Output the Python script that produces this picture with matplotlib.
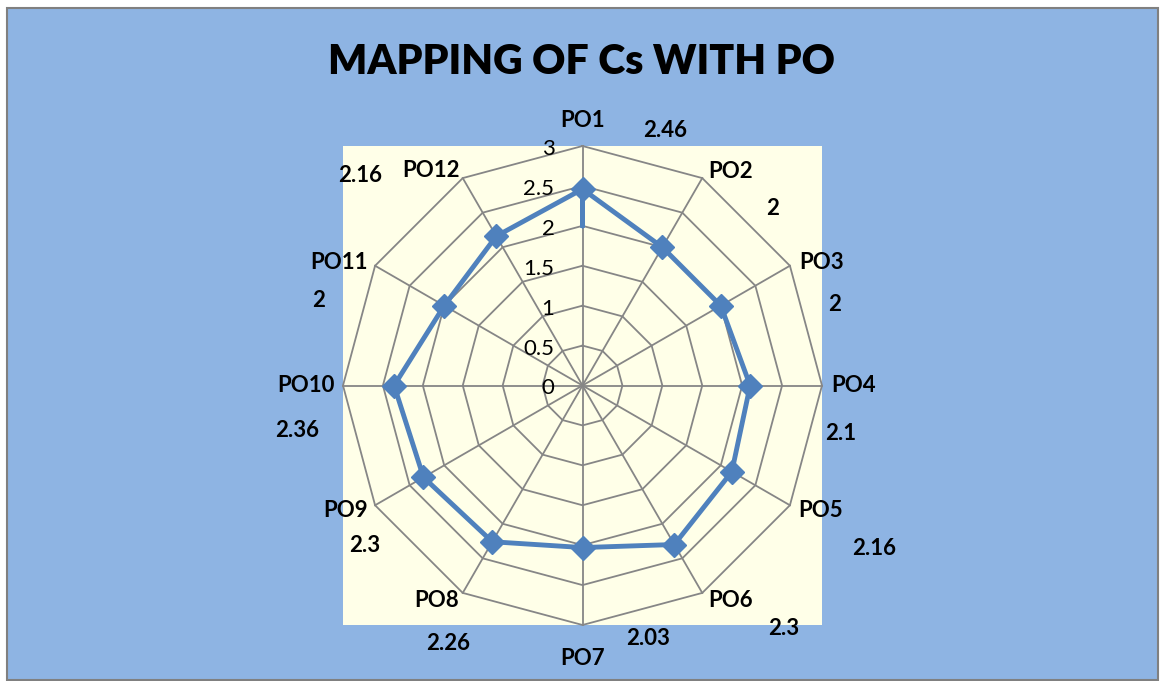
import numpy as np
import matplotlib
matplotlib.use("Agg")
import matplotlib.pyplot as plt
from matplotlib.patches import Rectangle

# data
categories = ["PO1", "PO2", "PO3", "PO4", "PO5", "PO6",
              "PO7", "PO8", "PO9", "PO10", "PO11", "PO12"]
values = [2.46, 2, 2, 2.1, 2.16, 2.3, 2.03, 2.26, 2.3, 2.36, 2, 2.16]
value_text = ["2.46", "2", "2", "2.1", "2.16", "2.3",
              "2.03", "2.26", "2.3", "2.36", "2", "2.16"]
rings = [0.5, 1, 1.5, 2, 2.5, 3]
tick_labels = ["0", "0.5", "1", "1.5", "2", "2.5", "3"]

# label layout (pixel offsets from the centre, y up)
cat_off = [(0, 265), (148, 214), (239, 123), (271, 0), (238, -125), (148, -215),
           (0, -273), (-146, -215), (-237, -125), (-277, 0), (-244, 123), (-152, 215)]
val_off = [(83, 255), (190, 177), (252, 81), (258, -48), (292, -163), (201, -243),
           (66, -253), (-134, -258), (-218, -160), (-285, -45), (-264, 85), (-222, 210)]

plt.rcParams['font.family'] = ['Lato', 'DejaVu Sans']

W, H = 1162, 681
fig = plt.figure(figsize=(W / 100, H / 100), dpi=100)
fig.patch.set_facecolor("white")
bg = Rectangle((7 / W, 1 / H), 1151 / W, 672 / H, transform=fig.transFigure,
               facecolor="#8EB4E3", edgecolor="#808080", linewidth=1.5, zorder=-10)
fig.patches.append(bg)

fig.text(582 / W, 1 - 62 / H, "MAPPING OF Cs WITH PO", ha="center", va="center",
         fontsize=29.5, fontweight="heavy", color="black")

# plot area (yellow square)
x0, y0, side = 343, 146, 479
ax = fig.add_axes([x0 / W, 1 - (y0 + side) / H, side / W, side / H])
ax.set_facecolor("#FFFFE8")
ax.set_xlim(-3, 3)
ax.set_ylim(-3, 3)
ax.set_xticks([])
ax.set_yticks([])
for s in ax.spines.values():
    s.set_visible(False)
px = side / 6.0

n = len(categories)
theta = np.arange(n) * 2 * np.pi / n
sx, sy = np.sin(theta), np.cos(theta)

grid_col = "#868686"
for r in rings:
    ax.plot(np.append(r * sx, r * sx[0]), np.append(r * sy, r * sy[0]),
            color=grid_col, lw=1.3, zorder=1, clip_on=False)
for i in range(n):
    ax.plot([0, 3 * sx[i]], [0, 3 * sy[i]], color=grid_col, lw=1.3, zorder=1, clip_on=False)

v = np.array(values)
ax.plot(np.append(v * sx, v * sx[0]), np.append(v * sy, v * sy[0]),
        color="#4F81BD", lw=3.5, zorder=3, clip_on=False)
ax.plot(v * sx, v * sy, linestyle="none", marker="D", markersize=12,
        color="#4F81BD", zorder=4, clip_on=False)

# axis value labels
for k, t in enumerate(tick_labels):
    ax.text(-28 / px, k * 0.5 - 3 / px, t, ha="right", va="center", fontsize=16, color="black")

for i in range(n):
    ax.text(cat_off[i][0] / px, cat_off[i][1] / px, categories[i], ha="center", va="center",
            fontsize=16, fontweight="bold", clip_on=False)
    ax.text(val_off[i][0] / px, val_off[i][1] / px, value_text[i], ha="center", va="center",
            fontsize=16, fontweight="bold", clip_on=False)

fig.savefig("out.png", dpi=100)
